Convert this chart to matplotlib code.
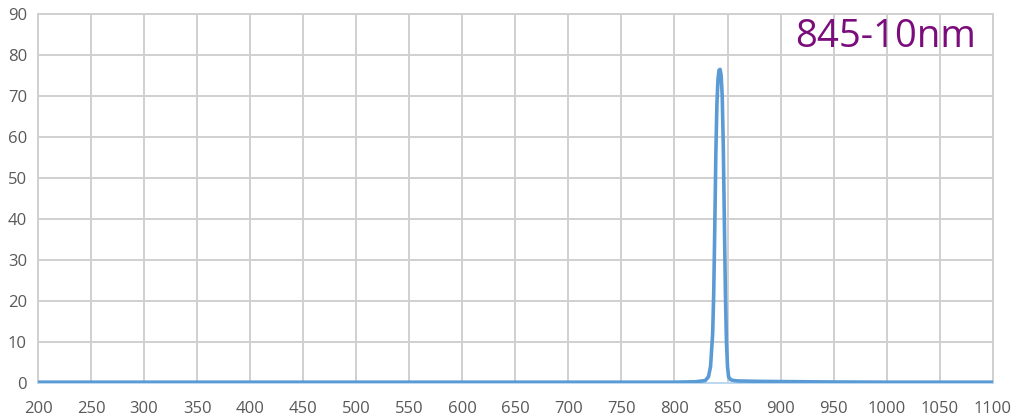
import matplotlib.pyplot as plt

# Courbe de transmission
wavelength = [200, 300, 400, 500, 600, 700, 800, 820, 829, 832, 834, 836, 837, 838,
              839, 840, 841, 842, 843, 844, 845, 846, 847, 848, 849, 850, 851, 853,
              856, 860, 880, 900, 950, 1000, 1100]
transmission = [0.2, 0.2, 0.2, 0.2, 0.2, 0.2, 0.2, 0.3, 0.6, 1.5, 4, 12, 22, 38,
                56, 68, 74, 76.3, 76.5, 75, 70, 58, 40, 22, 10, 4, 1.5, 0.8,
                0.6, 0.5, 0.4, 0.35, 0.25, 0.2, 0.2]

xticks = list(range(200, 1101, 50))
yticks = list(range(0, 91, 10))
label = "845-10nm"

plt.rcParams['font.family'] = ['Open Sans', 'DejaVu Sans']

fig = plt.figure(figsize=(10.14, 4.19), dpi=100)
ax = fig.add_axes([0.0375, 0.0859, 0.9415, 0.8807])

ax.plot(wavelength, transmission, color='#5b9bd5', linewidth=2.6, zorder=3)

ax.set_xlim(200, 1100)
ax.set_ylim(0, 90)
ax.set_xticks(xticks)
ax.set_yticks(yticks)
ax.grid(True, color='#d0d0d0', linewidth=1.4)
ax.tick_params(length=0, labelsize=12, colors='#595959')
ax.tick_params(axis='x', pad=13)
ax.tick_params(axis='y', pad=8)
for s in ax.spines.values():
    s.set_color('#d0d0d0')
    s.set_linewidth(1.4)
ax.spines['bottom'].set_color('#bcd8f0')

ax.text(0.983, 0.99, label, transform=ax.transAxes, ha='right', va='top',
        fontsize=27.5, color='#7b0c7b')

plt.savefig("out.png", dpi=100)
